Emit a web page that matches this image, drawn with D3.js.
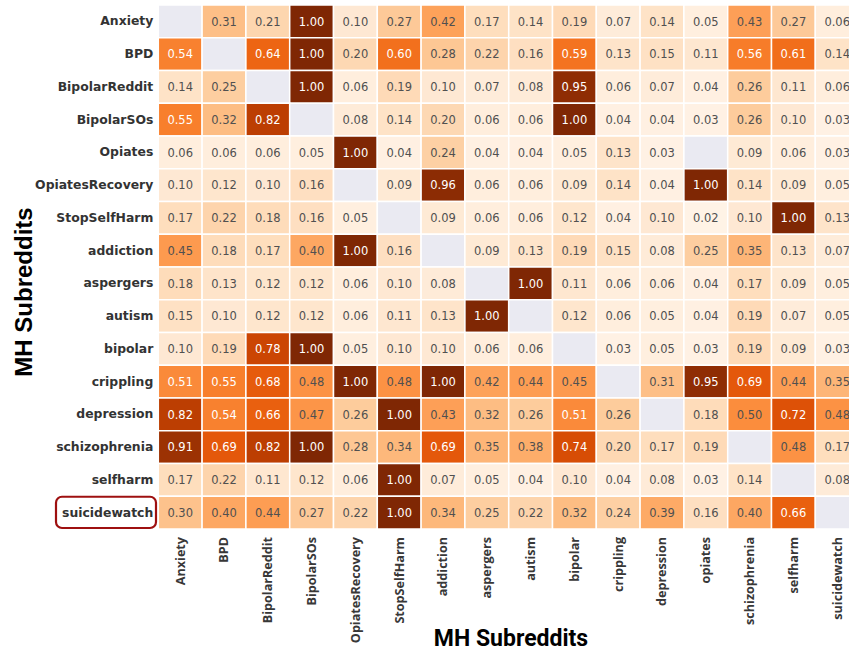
<!DOCTYPE html>
<html>
<head>
<meta charset="utf-8">
<script src="https://cdn.jsdelivr.net/npm/d3@7"></script>
<style>
html,body{margin:0;padding:0;background:#fff;}
svg{display:block;}
</style>
</head>
<body>
<svg id="chart" width="849" height="653"></svg>
<script>
const rowLabels = ["Anxiety","BPD","BipolarReddit","BipolarSOs","Opiates","OpiatesRecovery","StopSelfHarm","addiction","aspergers","autism","bipolar","crippling","depression","schizophrenia","selfharm","suicidewatch"];
const colLabels = ["Anxiety","BPD","BipolarReddit","BipolarSOs","OpiatesRecovery","StopSelfHarm","addiction","aspergers","autism","bipolar","crippling","depression","opiates","schizophrenia","selfharm","suicidewatch"];
const values = [
 [null,0.31,0.21,1.00,0.10,0.27,0.42,0.17,0.14,0.19,0.07,0.14,0.05,0.43,0.27,0.06],
 [0.54,null,0.64,1.00,0.20,0.60,0.28,0.22,0.16,0.59,0.13,0.15,0.11,0.56,0.61,0.14],
 [0.14,0.25,null,1.00,0.06,0.19,0.10,0.07,0.08,0.95,0.06,0.07,0.04,0.26,0.11,0.06],
 [0.55,0.32,0.82,null,0.08,0.14,0.20,0.06,0.06,1.00,0.04,0.04,0.03,0.26,0.10,0.03],
 [0.06,0.06,0.06,0.05,1.00,0.04,0.24,0.04,0.04,0.05,0.13,0.03,null,0.09,0.06,0.03],
 [0.10,0.12,0.10,0.16,null,0.09,0.96,0.06,0.06,0.09,0.14,0.04,1.00,0.14,0.09,0.05],
 [0.17,0.22,0.18,0.16,0.05,null,0.09,0.06,0.06,0.12,0.04,0.10,0.02,0.10,1.00,0.13],
 [0.45,0.18,0.17,0.40,1.00,0.16,null,0.09,0.13,0.19,0.15,0.08,0.25,0.35,0.13,0.07],
 [0.18,0.13,0.12,0.12,0.06,0.10,0.08,null,1.00,0.11,0.06,0.06,0.04,0.17,0.09,0.05],
 [0.15,0.10,0.12,0.12,0.06,0.11,0.13,1.00,null,0.12,0.06,0.05,0.04,0.19,0.07,0.05],
 [0.10,0.19,0.78,1.00,0.05,0.10,0.10,0.06,0.06,null,0.03,0.05,0.03,0.19,0.09,0.03],
 [0.51,0.55,0.68,0.48,1.00,0.48,1.00,0.42,0.44,0.45,null,0.31,0.95,0.69,0.44,0.35],
 [0.82,0.54,0.66,0.47,0.26,1.00,0.43,0.32,0.26,0.51,0.26,null,0.18,0.50,0.72,0.48],
 [0.91,0.69,0.82,1.00,0.28,0.34,0.69,0.35,0.38,0.74,0.20,0.17,0.19,null,0.48,0.17],
 [0.17,0.22,0.11,0.12,0.06,1.00,0.07,0.05,0.04,0.10,0.04,0.08,0.03,0.14,null,0.08],
 [0.30,0.40,0.44,0.27,0.22,1.00,0.34,0.25,0.22,0.32,0.24,0.39,0.16,0.40,0.66,null]
];
const highlightedRow = "suicidewatch";
const axisTitle = "MH Subreddits";

const svg = d3.select("#chart");
const gridLeft = 158.3, cellW = 43.8, gridTop = 5, cellH = 32.75;

const x = d3.scaleBand().domain(colLabels).range([gridLeft, gridLeft + cellW*colLabels.length]).padding(0);
const y = d3.scaleBand().domain(rowLabels).range([gridTop, gridTop + cellH*rowLabels.length]).padding(0);
const color = d3.scaleSequential(d3.interpolateOranges).domain([0, 1]);

const cells = [];
rowLabels.forEach((r, i) => colLabels.forEach((c, j) => cells.push({r, c, v: values[i][j]})));

const g = svg.append("g");
g.selectAll("rect.cell").data(cells).join("rect")
  .attr("class","cell")
  .attr("x", d => x(d.c))
  .attr("y", d => y(d.r))
  .attr("width", x.bandwidth())
  .attr("height", y.bandwidth())
  .attr("fill", d => d.v == null ? "#eaeaf2" : color(d.v))
  .attr("stroke", "#fff")
  .attr("stroke-width", 1.5);

g.selectAll("text.val").data(cells.filter(d => d.v != null)).join("text")
  .attr("class","val")
  .attr("x", d => x(d.c) + x.bandwidth()/2)
  .attr("y", d => y(d.r) + y.bandwidth()/2)
  .attr("dy", "0.36em")
  .attr("text-anchor", "middle")
  .attr("font-family", "DejaVu Sans, sans-serif")
  .attr("font-size", 11.5)
  .attr("fill", d => d.v > 0.505 ? "#ffffff" : "#505050")
  .text(d => d.v.toFixed(2));

// Row labels
const yAxis = d3.axisLeft(y).tickSize(0).tickPadding(5);
const ya = svg.append("g").attr("transform", `translate(${gridLeft},0)`).call(yAxis);
ya.select(".domain").remove();
ya.selectAll("text")
  .attr("font-family", "DejaVu Sans, sans-serif")
  .attr("font-weight", "bold")
  .attr("font-size", 12.4)
  .attr("fill", "#333");

// Column labels
const xAxis = d3.axisBottom(x).tickSize(0).tickPadding(0);
const xa = svg.append("g").attr("transform", `translate(0,${gridTop + cellH*rowLabels.length})`).call(xAxis);
xa.select(".domain").remove();
xa.selectAll("text")
  .attr("font-family", "Open Sans, sans-serif")
  .attr("font-weight", "bold")
  .attr("font-size", 12.6)
  .attr("fill", "#383838")
  .attr("text-anchor", "end")
  .attr("transform", "rotate(-90)")
  .attr("x", -8)
  .attr("y", 0)
  .attr("dy", "0.35em");

// highlight box around row label
const hy = y(highlightedRow);
svg.append("rect")
  .attr("x", 56).attr("y", hy + 0.5)
  .attr("width", 100).attr("height", cellH - 1.5)
  .attr("rx", 6).attr("ry", 6)
  .attr("fill", "none")
  .attr("stroke", "#9e1010")
  .attr("stroke-width", 2.2);

// Axis titles
svg.append("text")
  .attr("transform", `translate(32,${gridTop + cellH*8 + 25}) rotate(-90)`)
  .attr("text-anchor", "middle")
  .attr("font-family", "Liberation Sans, Arial, sans-serif")
  .attr("font-weight", "bold")
  .attr("font-size", 24)
  .attr("fill", "#000")
  .text(axisTitle);

svg.append("text")
  .attr("x", 511).attr("y", 646)
  .attr("text-anchor", "middle")
  .attr("font-family", "Roboto, sans-serif")
  .attr("font-weight", "bold")
  .attr("font-size", 23)
  .attr("fill", "#000")
  .text(axisTitle);
</script>
</body>
</html>
